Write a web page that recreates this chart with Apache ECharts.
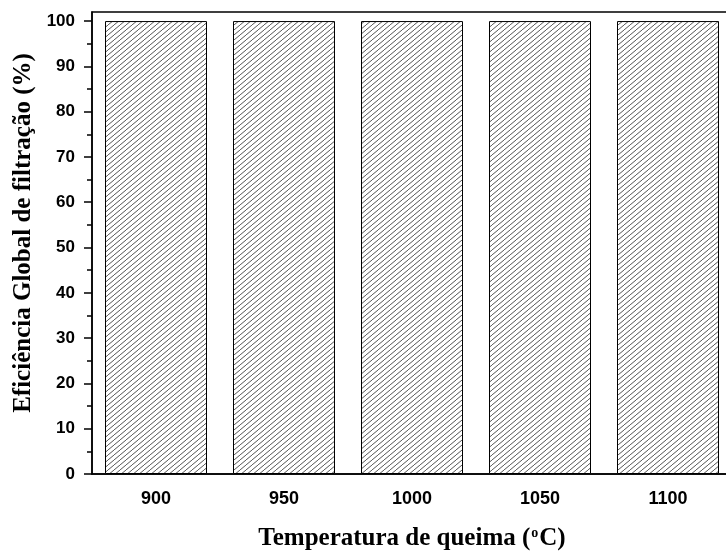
<!DOCTYPE html>
<html>
<head>
<meta charset="utf-8">
<script src="https://cdn.jsdelivr.net/npm/echarts@6/dist/echarts.min.js"></script>
<style>
  html, body { margin: 0; padding: 0; background: #fff; }
  #chart { width: 726px; height: 553px; }
</style>
</head>
<body>
<div id="chart"></div>
<script>
// temperaturas de queima (categorias)
const temperatures = ['900', '950', '1000', '1050', '1100']
// eficiência global de filtração (%)
const efficiency = [100, 100, 100, 100, 100]
// marcas do eixo y
const yMajorTicks = [0, 10, 20, 30, 40, 50, 60, 70, 80, 90, 100]
const yMinorTicks = [5, 15, 25, 35, 45, 55, 65, 75, 85, 95]

// hachura diagonal para as barras
function makeHatch() {
  const c = document.createElement('canvas')
  const w = 6, h = 5
  c.width = w
  c.height = h
  const ctx = c.getContext('2d')
  ctx.fillStyle = '#fff'
  ctx.fillRect(0, 0, w, h)
  ctx.strokeStyle = '#555'
  ctx.lineWidth = 1
  ctx.beginPath()
  ctx.moveTo(-w, 2 * h)
  ctx.lineTo(2 * w, -h)
  ctx.stroke()
  return c
}

const chart = echarts.init(document.getElementById('chart'))
const labelFont = { fontFamily: 'Liberation Sans', fontWeight: 'bold', fontSize: 17, color: '#000' }
const titleFont = { fontFamily: 'Liberation Serif', fontWeight: 'bold', fontSize: 25, color: '#000' }

chart.setOption({
  animation: false,
  grid: {
    left: 92,
    top: 12,
    width: 640,
    bottom: 79,
    outerBoundsMode: 'none',
    show: true,
    borderColor: '#000',
    borderWidth: 1.5
  },
  xAxis: [{
    type: 'category',
    data: temperatures,
    name: 'Temperatura de queima ({sup|o}C)',
    nameLocation: 'middle',
    nameGap: 52,
    nameTextStyle: Object.assign({}, titleFont, {
      rich: { sup: Object.assign({}, titleFont, { fontSize: 14, verticalAlign: 'top', padding: [0, 1, 12, 1] }) }
    }),
    axisLine: { lineStyle: { color: '#000', width: 1.5 } },
    axisTick: { alignWithLabel: true, length: 8, lineStyle: { color: '#000', width: 1.5 } },
    axisLabel: Object.assign({ margin: 16 }, labelFont, { fontSize: 18 }),
    splitLine: { show: false }
  }, {
    // marcas menores entre as categorias
    type: 'category',
    data: temperatures,
    position: 'bottom',
    axisLine: { show: false },
    axisTick: { length: 5, lineStyle: { color: '#000', width: 1.5 } },
    axisLabel: { show: false },
    splitLine: { show: false }
  }],
  yAxis: [{
    type: 'value',
    min: 0,
    max: 102,
    name: 'Eficiência Global de filtração (%)',
    nameLocation: 'middle',
    nameGap: 53,
    nameTextStyle: Object.assign({}, titleFont, { padding: [0, 0, 0, 20] }),
    axisLine: { show: true, lineStyle: { color: '#000', width: 1.5 } },
    axisTick: { show: true, length: 8, customValues: yMajorTicks, lineStyle: { color: '#000', width: 1.5 } },
    axisLabel: Object.assign({ margin: 17, customValues: yMajorTicks }, labelFont),
    splitLine: { show: false }
  }, {
    type: 'value',
    min: 0,
    max: 102,
    position: 'left',
    axisLine: { show: false },
    axisTick: { show: true, length: 5, customValues: yMinorTicks, lineStyle: { color: '#000', width: 1.5 } },
    axisLabel: { show: false },
    splitLine: { show: false }
  }],
  series: [{
    type: 'bar',
    data: efficiency,
    barWidth: 102,
    itemStyle: {
      color: { image: makeHatch(), repeat: 'repeat' },
      borderColor: '#000',
      borderWidth: 1
    }
  }]
})
</script>
</body>
</html>
